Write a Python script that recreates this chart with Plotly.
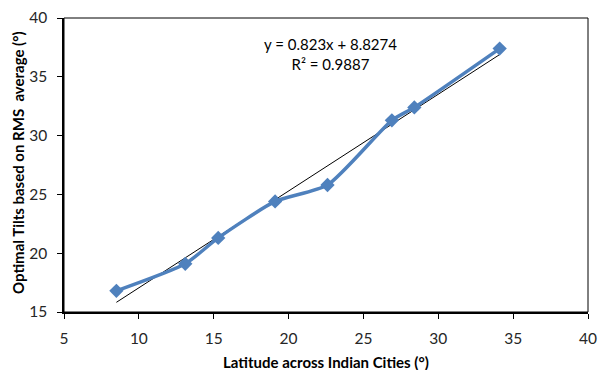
import plotly.graph_objects as go

# Data
latitude = [8.5, 13.1, 15.3, 19.1, 22.6, 26.9, 28.4, 34.1]
optimal_tilt = [16.8, 19.1, 21.3, 24.4, 25.8, 31.3, 32.4, 37.4]
trend_slope = 0.823
trend_intercept = 8.8274
r_squared = 0.9887
x_ticks = [5, 10, 15, 20, 25, 30, 35, 40]
y_ticks = [15, 20, 25, 30, 35, 40]

trend_x = [min(latitude), max(latitude)]
trend_y = [trend_slope * v + trend_intercept for v in trend_x]

fig = go.Figure()
fig.add_trace(go.Scatter(
    x=trend_x, y=trend_y, mode="lines",
    line=dict(color="black", width=1), showlegend=False, hoverinfo="skip"))
fig.add_trace(go.Scatter(
    x=latitude, y=optimal_tilt, mode="lines+markers",
    line=dict(color="#4F81BD", width=3.5, shape="spline", smoothing=0.6),
    marker=dict(symbol="diamond", size=11, color="#4F81BD"),
    showlegend=False, cliponaxis=False))

font_family = "Lato, 'Liberation Sans', sans-serif"
fig.add_annotation(
    x=0.508, y=0.878, xref="paper", yref="paper", xanchor="center", yanchor="middle",
    text=f"y = {trend_slope}x + {trend_intercept}<br>R² = {r_squared}",
    showarrow=False, align="center",
    font=dict(family=font_family, size=15, color="black"))

# axis titles as annotations for precise placement
fig.add_annotation(
    x=0.5, y=-0.17, xref="paper", yref="paper", xanchor="center", yanchor="middle",
    text="<b>Latitude across Indian Cities (°)</b>", showarrow=False,
    font=dict(family=font_family, size=15, color="black"))
fig.add_annotation(
    x=-0.088, y=0.51, xref="paper", yref="paper", xanchor="center", yanchor="middle",
    text="<b>Optimal Tilts based on RMS\u00a0\u00a0average (°)</b>", showarrow=False,
    textangle=-90,
    font=dict(family=font_family, size=15, color="black"))

fig.update_xaxes(
    range=[5, 40], tickvals=x_ticks, ticks="outside", ticklen=5, tickwidth=1,
    tickcolor="black", showline=True, linecolor="black", linewidth=1.5,
    showgrid=False, zeroline=False, automargin=False,
    ticklabeloverflow="allow", ticklabelstandoff=7,
    tickfont=dict(family=font_family, size=15.5, color="#262626"))
fig.update_yaxes(
    range=[15, 40], tickvals=y_ticks, ticks="outside", ticklen=5, tickwidth=1,
    tickcolor="black", showline=True, linecolor="black", linewidth=1.5,
    showgrid=False, zeroline=False, automargin=False,
    ticklabeloverflow="allow", ticklabelstandoff=7,
    tickfont=dict(family=font_family, size=15.5, color="#262626"))

fig.add_shape(type="rect", xref="paper", yref="paper", x0=0, y0=0, x1=1, y1=1,
              line=dict(color="black", width=1))

fig.update_layout(
    width=598, height=370,
    margin=dict(l=64, r=10, t=18, b=58, autoexpand=False),
    plot_bgcolor="white", paper_bgcolor="white")

# remove the default page margin so the 598x370 figure fills the window exactly
fig.write_html(
    "out.html",
    config={"displayModeBar": False},
    post_script="document.body.style.margin='0';document.body.style.overflow='hidden';")
